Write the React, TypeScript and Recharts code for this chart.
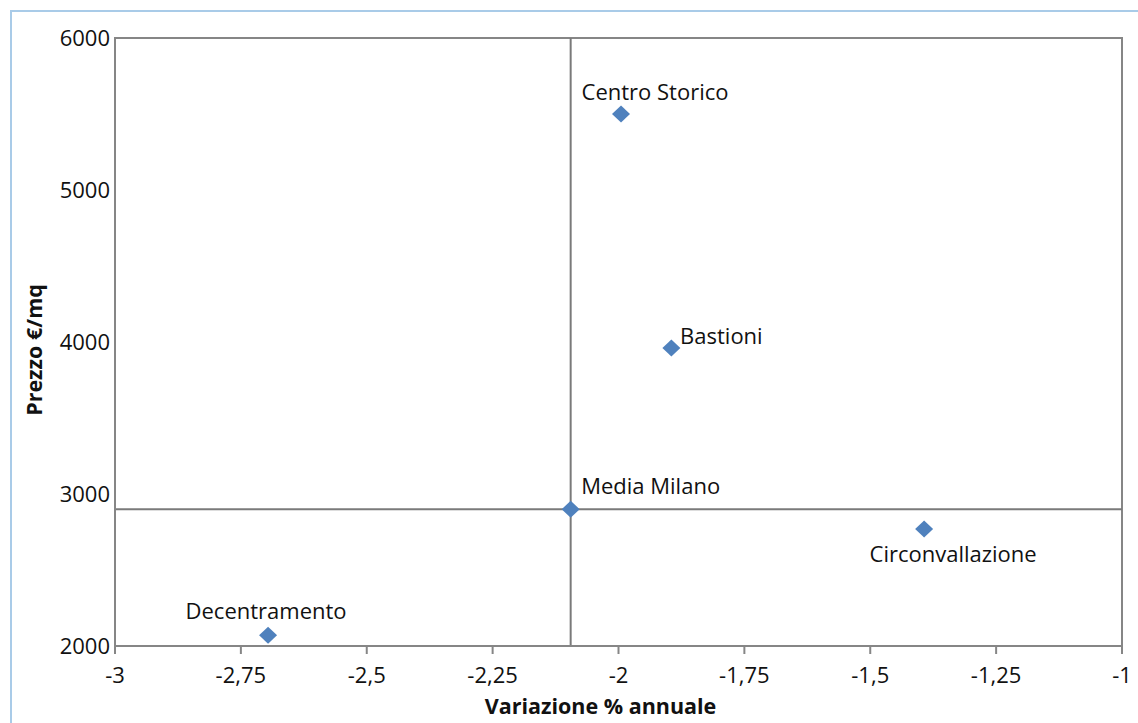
import React from 'react'
import {
    ScatterChart, Scatter, XAxis, YAxis, ZAxis, ReferenceLine, ReferenceArea,
} from 'recharts'

// zone milanesi: variazione % annuale vs prezzo €/mq
const zones = ['Centro Storico', 'Bastioni', 'Media Milano', 'Circonvallazione', 'Decentramento']
const variazione = [-1.995, -1.895, -2.095, -1.393, -2.696]
const prezzo = [5500, 3960, 2900, 2770, 2070]

const xTicks = [-3, -2.75, -2.5, -2.25, -2, -1.75, -1.5, -1.25, -1]
const yTicks = [2000, 3000, 4000, 5000, 6000]

// linee della media
const mediaX = -2.095
const mediaY = 2900

const data = zones.map((name, i) => ({ name, x: variazione[i], y: prezzo[i] }))

// dove mettere l'etichetta rispetto al punto
const LABEL_OFFSET: Record<string, [number, number]> = {
    'Centro Storico': [34, -23],
    'Bastioni': [50, -13],
    'Media Milano': [80, -24],
    'Circonvallazione': [29, 24],
    'Decentramento': [-2, -25],
}

const FONT = '"Open Sans", sans-serif'
const GRAY = '#868686'

const fmt = (v: number) => String(v).replace('.', ',')

function Diamond(props: any) {
    const { cx, cy, payload } = props
    const [dx, dy] = LABEL_OFFSET[payload.name] ?? [0, -20]
    return (
        <g>
            <path d={`M${cx},${cy - 8.5} L${cx + 9},${cy} L${cx},${cy + 8.5} L${cx - 9},${cy} Z`} fill="#4F81BD" />
            <text x={cx + dx} y={cy + dy} textAnchor="middle" dominantBaseline="central"
                fontFamily={FONT} fontSize={22} fill="#111">{payload.name}</text>
        </g>
    )
}

export default function App() {
    return (
        <div style={{ position: 'relative', width: 1138, height: 723, overflow: 'hidden', background: '#fff' }}>
            <style>{`body{margin:0}`}</style>
            <div style={{ position: 'absolute', left: 10, top: 10, width: 1140, height: 740, border: '2px solid #a9cbe8', boxSizing: 'border-box' }} />
            <div style={{ position: 'absolute', left: 0, top: 0 }}>
                <ScatterChart width={1138} height={723} margin={{ top: 38, right: 16, left: 0, bottom: 0 }}>
                    <XAxis type="number" dataKey="x" domain={[-3, -1]} ticks={xTicks} tickFormatter={fmt}
                        allowDataOverflow interval={0}
                        height={77} stroke={GRAY} strokeWidth={2} tickSize={8} tickMargin={13}
                        tick={{ fill: '#111', fontSize: 22, fontFamily: FONT }}
                        label={{ value: 'Variazione % annuale', position: 'center', dx: -18, dy: 22, fill: '#111', fontSize: 21.5, fontWeight: 700, fontFamily: FONT }} />
                    <YAxis type="number" dataKey="y" domain={[2000, 6000]} ticks={yTicks}
                        allowDataOverflow interval={0}
                        width={115} stroke={GRAY} strokeWidth={2} tickLine={false} tickSize={0} tickMargin={5}
                        tick={{ fill: '#111', fontSize: 22, fontFamily: FONT }}
                        label={{ value: 'Prezzo €/mq', angle: -90, position: 'center', dx: -23, dy: 8, fill: '#111', fontSize: 21.5, fontWeight: 700, fontFamily: FONT }} />
                    <ZAxis range={[150, 150]} />
                    <ReferenceArea x1={-3} x2={-1} y1={2000} y2={6000} fill="none" stroke={GRAY} strokeWidth={2} />
                    <ReferenceLine x={mediaX} stroke="#7a7a7a" strokeWidth={2} />
                    <ReferenceLine y={mediaY} stroke="#7a7a7a" strokeWidth={2} />
                    <Scatter data={data} shape={<Diamond />} isAnimationActive={false} />
                </ScatterChart>
            </div>
        </div>
    )
}
